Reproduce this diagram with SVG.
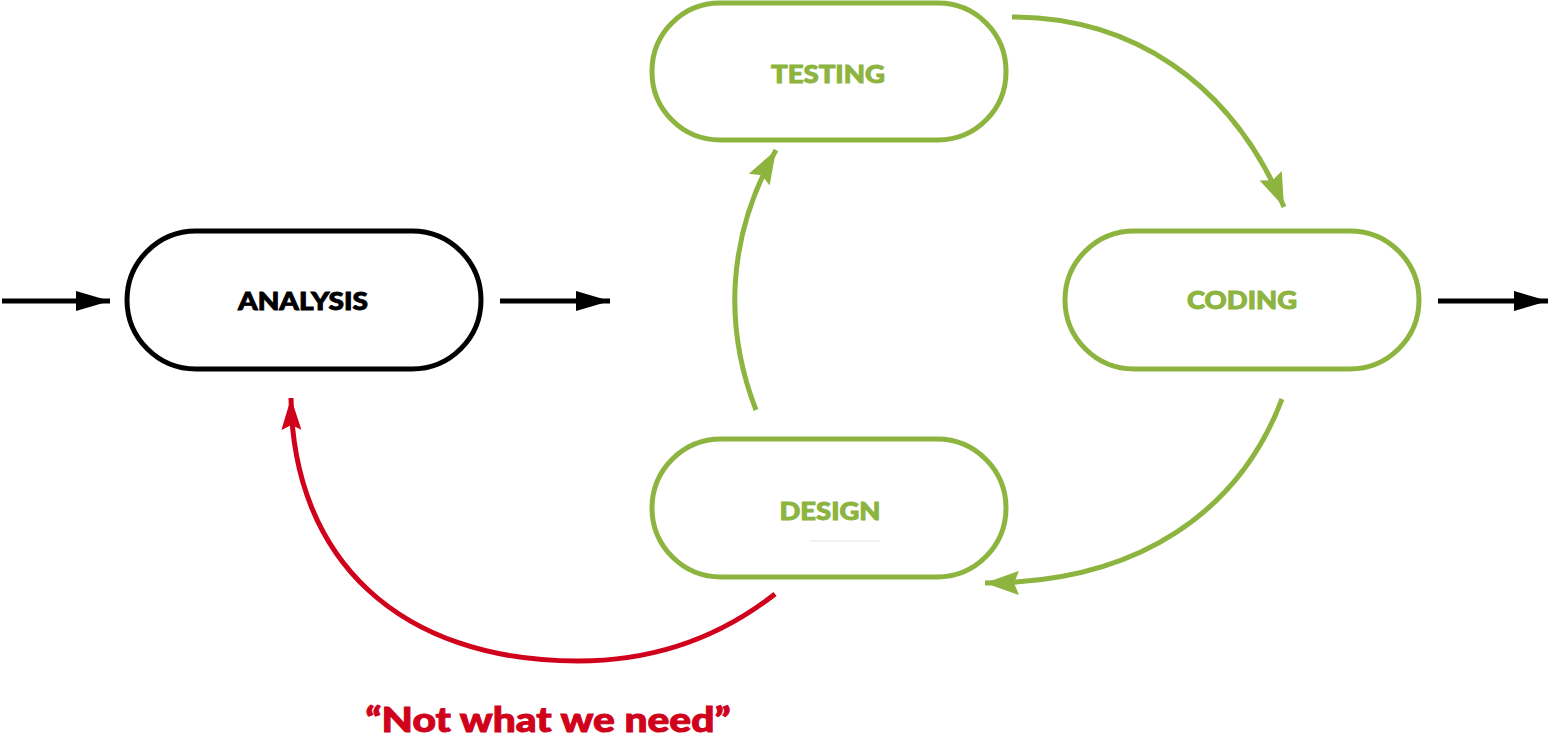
<svg xmlns="http://www.w3.org/2000/svg" width="1550" height="736" viewBox="0 0 1550 736">
<style>
.box{fill:#fff;stroke-width:5}
.g{stroke:#8cb43f}
.k{stroke:#000}
.lbl{font-family:Lato,"Open Sans",sans-serif;font-weight:900;font-size:24px;text-anchor:middle;stroke-width:0.9}
.con{fill:none;stroke-width:5}
</style>
<defs>
<marker id="ak" markerUnits="userSpaceOnUse" markerWidth="36" markerHeight="22" refX="34" refY="11" orient="auto"><path d="M0,1 L34,11 L0,21 z" fill="#000"/></marker>
<marker id="ag" markerUnits="userSpaceOnUse" markerWidth="36" markerHeight="26" refX="34" refY="13" orient="auto"><path d="M0,1 L34,13 L0,25 L5,13 z" fill="#8cb43f"/></marker>
<marker id="ar" markerUnits="userSpaceOnUse" markerWidth="34" markerHeight="24" refX="32" refY="12" orient="auto"><path d="M0,2 L32,12 L0,22 L5,12 z" fill="#d0021b"/></marker>
</defs>
<rect width="1550" height="736" fill="#fff"/>
<g id="connectors">
<path class="con k" d="M2,301 L110,301" marker-end="url(#ak)"/>
<path class="con k" d="M500,301 L610,301" marker-end="url(#ak)"/>
<path class="con k" d="M1438,301 L1548,301" marker-end="url(#ak)"/>
<path class="con g" d="M1012,17 C1130,17 1230,80 1284,207" marker-end="url(#ag)"/>
<path class="con g" d="M1282,399 C1240,510 1140,583 985,583" marker-end="url(#ag)"/>
<path class="con g" d="M756,410 C725,330 725,240 776,150" marker-end="url(#ag)"/>
<path class="con" stroke="#d0021b" d="M775,594 C710,645 640,661 578,661 C400,661 293,560 291,398" marker-end="url(#ar)"/>
</g>
<g id="analysis">
<rect class="box k" x="127" y="231" width="354" height="138" rx="69"/>
<text class="lbl" x="303" y="310" fill="#000" stroke="#000" textLength="130" lengthAdjust="spacingAndGlyphs">ANALYSIS</text>
</g>
<g id="testing">
<rect class="box g" x="652" y="3" width="354" height="137" rx="68"/>
<text class="lbl" x="828" y="83" fill="#8cb43f" stroke="#8cb43f" textLength="114" lengthAdjust="spacingAndGlyphs">TESTING</text>
</g>
<g id="coding">
<rect class="box g" x="1065" y="231" width="354" height="138" rx="69"/>
<text class="lbl" x="1242" y="309" fill="#8cb43f" stroke="#8cb43f" textLength="110" lengthAdjust="spacingAndGlyphs">CODING</text>
</g>
<g id="design">
<rect class="box g" x="652" y="439" width="354" height="138" rx="69"/>
<text class="lbl" x="830" y="520" fill="#8cb43f" stroke="#8cb43f" textLength="101" lengthAdjust="spacingAndGlyphs">DESIGN</text>
<line x1="810" y1="541" x2="880" y2="541" stroke="#e6e8dc" stroke-width="1"/>
</g>
<g id="note">
<text x="548" y="732" font-family="Lato,'Open Sans',sans-serif" font-weight="900" font-size="35" text-anchor="middle" fill="#d0021b" stroke="#d0021b" stroke-width="1" textLength="365" lengthAdjust="spacingAndGlyphs">“Not what we need”</text>
</g>
</svg>
